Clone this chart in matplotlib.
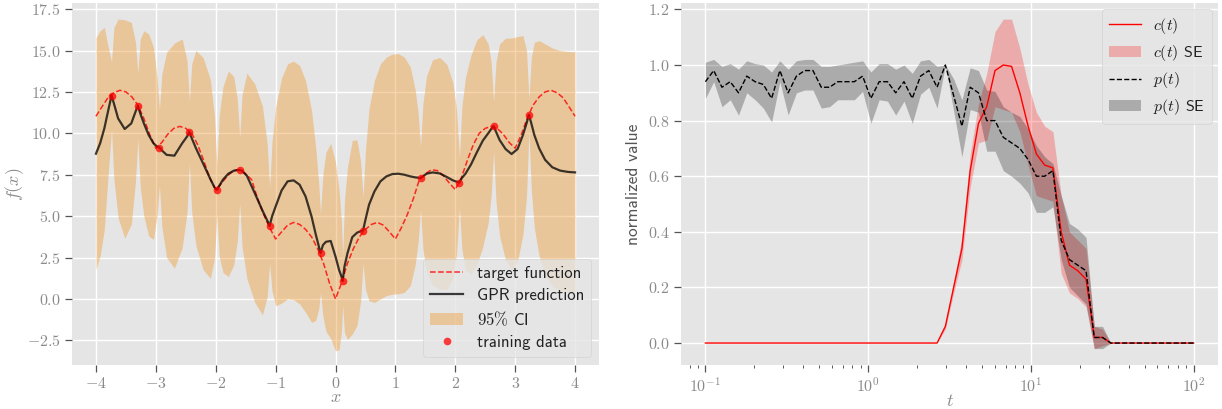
import numpy as np
import matplotlib
matplotlib.use("Agg")
import matplotlib.pyplot as plt
from matplotlib.ticker import FuncFormatter, LogLocator, NullFormatter, MultipleLocator

plt.style.use("ggplot")
plt.rcParams["mathtext.fontset"] = "cm"
plt.rcParams["font.family"] = ["cmss10", "DejaVu Sans"]
plt.rcParams["axes.unicode_minus"] = False

# ---- left panel: GPR fit -------------------------------------------------
train_x = [-3.74, -3.30, -2.94, -2.44, -1.98, -1.60, -1.10, -0.25, 0.12, 0.46,
           1.42, 2.07, 2.64, 3.23]
train_y = [12.28, 11.66, 9.14, 10.07, 6.59, 7.78, 4.41, 2.76, 1.09, 4.13,
           7.29, 7.03, 10.43, 11.12]

target_x = np.round(np.arange(-40, 41) * 0.1, 1)
target_y = [11.03, 11.60, 12.15, 12.45, 12.60, 12.50, 12.20, 11.70, 10.90, 9.90,
            9.10, 9.45, 9.95, 10.30, 10.42, 10.30, 10.00, 9.30, 8.35, 7.30,
            6.60, 7.00, 7.45, 7.75, 7.80, 7.55, 7.20, 6.05, 5.10, 4.30,
            3.62, 4.05, 4.45, 4.62, 4.50, 4.20, 3.75, 3.05, 2.15, 0.95,
            0.00,
            0.95, 2.15, 3.05, 3.75, 4.20, 4.50, 4.62, 4.45, 4.05, 3.62,
            4.30, 5.10, 6.05, 7.20, 7.55, 7.80, 7.75, 7.45, 7.00, 6.60,
            7.30, 8.35, 9.30, 10.00, 10.30, 10.42, 10.30, 9.95, 9.45, 9.10,
            9.90, 10.90, 11.70, 12.20, 12.50, 12.60, 12.45, 12.15, 11.60, 11.03]

pred_x = [-4.00, -3.93, -3.86, -3.80, -3.74,
          -3.70, -3.63, -3.52, -3.41, -3.34, -3.30,
          -3.26, -3.20, -3.12, -3.04, -2.98, -2.94,
          -2.90, -2.82, -2.69, -2.56, -2.48, -2.44,
          -2.40, -2.33, -2.21, -2.09, -2.02, -1.98,
          -1.94, -1.88, -1.79, -1.70, -1.64, -1.60,
          -1.56, -1.48, -1.35, -1.22, -1.14, -1.10,
          -1.06, -1.00, -0.90, -0.80, -0.70, -0.60, -0.50, -0.40, -0.33, -0.28, -0.25,
          -0.21, -0.16, -0.08, 0.00, 0.06, 0.10, 0.12,
          0.15, 0.20, 0.28, 0.36, 0.42, 0.46,
          0.50, 0.56, 0.65, 0.75, 0.85, 0.95, 1.05, 1.15, 1.25, 1.33, 1.38, 1.42,
          1.46, 1.52, 1.62, 1.74, 1.86, 1.96, 2.02, 2.07,
          2.11, 2.17, 2.26, 2.36, 2.46, 2.55, 2.60, 2.64,
          2.68, 2.74, 2.84, 2.94, 3.04, 3.13, 3.19, 3.23,
          3.27, 3.32, 3.40, 3.50, 3.62, 3.75, 3.88, 4.00]
pred_mean = [8.77, 9.40, 10.30, 11.30, 12.28,
             11.80, 10.90, 10.26, 10.60, 11.30, 11.66,
             11.20, 10.60, 9.90, 9.40, 9.20, 9.14,
             8.97, 8.70, 8.65, 9.40, 9.80, 10.08,
             9.70, 9.10, 8.17, 7.24, 6.73, 6.59,
             6.83, 7.20, 7.56, 7.74, 7.78, 7.78,
             7.74, 7.44, 6.40, 5.34, 4.74, 4.41,
             4.98, 5.58, 6.55, 7.10, 7.16, 6.90, 6.19, 4.98, 3.90, 3.20, 2.76,
             3.25, 3.45, 3.50, 2.56, 1.75, 1.35, 1.09,
             1.96, 2.76, 3.73, 4.00, 4.09, 4.13,
             4.78, 5.69, 6.49, 7.10, 7.40, 7.54, 7.56, 7.50, 7.40, 7.34, 7.32, 7.29,
             7.40, 7.56, 7.64, 7.58, 7.36, 7.16, 7.08, 7.03,
             7.30, 7.56, 8.10, 8.85, 9.56, 10.00, 10.26, 10.43,
             10.10, 9.60, 9.05, 8.75, 9.05, 9.90, 10.60, 11.12,
             10.60, 9.90, 9.10, 8.40, 7.95, 7.75, 7.67, 7.64]
ci_half = [7.00, 6.80, 6.10, 4.00, 2.05,
           4.60, 6.00, 6.60, 6.10, 4.20, 2.00,
           4.50, 5.60, 6.10, 5.80, 4.20, 2.30,
           4.60, 6.20, 6.80, 6.30, 4.60, 1.90,
           4.50, 5.90, 6.40, 6.00, 4.30, 1.50,
           4.30, 5.60, 6.20, 5.70, 4.30, 2.00,
           4.60, 6.20, 6.60, 6.30, 4.60, 2.30,
           4.50, 6.00, 6.80, 7.10, 7.20, 7.20, 7.00, 6.40, 5.20, 3.80, 2.40,
           4.30, 5.40, 5.90, 5.70, 4.80, 3.30, 1.50,
           4.00, 5.20, 5.85, 5.60, 4.20, 2.00,
           4.20, 5.80, 6.70, 7.10, 7.20, 7.25, 7.25, 7.10, 6.60, 5.30, 3.90, 1.90,
           4.40, 5.90, 6.80, 7.00, 6.80, 5.90, 4.40, 1.50,
           4.30, 5.80, 6.60, 6.80, 6.40, 5.40, 4.00, 1.50,
           4.20, 5.80, 6.70, 7.00, 6.80, 6.00, 4.40, 1.00,
           4.00, 5.60, 6.50, 7.00, 7.20, 7.25, 7.28, 7.28]

# ---- right panel: c(t), p(t) ---------------------------------------------
t = np.logspace(-1, 2, 60)
p_mean = [0.94, 0.98, 0.92, 0.94, 0.90, 0.96, 0.94, 0.93, 0.88, 0.98,
          0.90, 0.96, 0.98, 0.98, 0.92, 0.92, 0.94, 0.94, 0.94, 0.96,
          0.88, 0.94, 0.94, 0.90, 0.94, 0.88, 0.96, 0.98, 0.92, 1.00,
          0.89, 0.78, 0.92, 0.90, 0.80, 0.80, 0.74, 0.72, 0.70, 0.66,
          0.60, 0.60, 0.62, 0.37, 0.30, 0.28, 0.26, 0.02, 0.02, 0.00,
          0.00, 0.00, 0.00, 0.00, 0.00, 0.00, 0.00, 0.00, 0.00, 0.00]
p_hi = [1.010, 1.020, 0.995, 1.005, 0.985, 1.015, 1.005, 1.000, 0.975, 1.015,
        0.985, 1.015, 1.020, 1.020, 0.995, 0.995, 1.000, 1.005, 1.010, 1.015,
        0.975, 1.005, 1.005, 0.985, 1.000, 0.970, 1.015, 1.020, 0.995, 1.000,
        0.950, 0.875, 0.990, 0.980, 0.910, 0.905, 0.850, 0.830, 0.815, 0.770,
        0.710, 0.670, 0.645, 0.530, 0.430, 0.410, 0.380, 0.060, 0.060, 0.000,
        0.00, 0.00, 0.00, 0.00, 0.00, 0.00, 0.00, 0.00, 0.00, 0.00]
p_lo = [0.880, 0.940, 0.850, 0.875, 0.820, 0.900, 0.875, 0.845, 0.795, 0.940,
        0.820, 0.900, 0.910, 0.910, 0.845, 0.850, 0.875, 0.875, 0.875, 0.905,
        0.790, 0.875, 0.870, 0.820, 0.870, 0.790, 0.895, 0.920, 0.845, 1.000,
        0.835, 0.670, 0.840, 0.830, 0.690, 0.690, 0.620, 0.600, 0.575, 0.540,
        0.470, 0.470, 0.490, 0.300, 0.200, 0.170, 0.140, -0.020, -0.020, 0.000,
        0.00, 0.00, 0.00, 0.00, 0.00, 0.00, 0.00, 0.00, 0.00, 0.00]
c_mean = [0.0] * 29 + [0.06, 0.20, 0.34, 0.62, 0.79, 0.85, 0.98, 1.00, 0.995, 0.90,
                       0.78, 0.68, 0.64, 0.63, 0.40, 0.28, 0.26, 0.23, 0.02, 0.02] + [0.0] * 11
c_lo = [0.0] * 29 + [0.05, 0.18, 0.30, 0.56, 0.72, 0.73, 0.85, 0.84, 0.83, 0.76,
                     0.64, 0.53, 0.52, 0.51, 0.25, 0.18, 0.16, 0.13, -0.02, -0.01] + [0.0] * 11
c_hi = [0.0] * 29 + [0.07, 0.22, 0.38, 0.68, 0.86, 0.97, 1.12, 1.165, 1.165, 1.06,
                     0.93, 0.83, 0.78, 0.76, 0.53, 0.40, 0.37, 0.34, 0.06, 0.05] + [0.0] * 11

TICK_LABEL = "#8a8a8a"
TICK_MARK = "#555555"

fig = plt.figure(figsize=(12.22, 4.09), dpi=100)
ax1 = fig.add_axes([72 / 1222, 44 / 409, 527 / 1222, 362 / 409])
ax2 = fig.add_axes([681 / 1222, 44 / 409, 537 / 1222, 362 / 409])

for ax in (ax1, ax2):
    ax.set_facecolor("#e5e5e5")
    ax.grid(True, which="major", color="white", lw=1.0)
    ax.set_axisbelow(True)
    for s in ax.spines.values():
        s.set_visible(False)
    ax.tick_params(which="both", direction="out", color=TICK_MARK,
                   labelcolor=TICK_LABEL, labelsize=11.5)
    ax.tick_params(which="major", length=5, width=0.9, pad=3)
    ax.tick_params(which="minor", length=2.5, width=0.7)

# left
pm = np.array(pred_mean)
hw = np.array(ci_half)
ci = ax1.fill_between(pred_x, pm - hw, pm + hw, color="#eea040", alpha=0.45,
                      lw=0, zorder=1)
l_target, = ax1.plot(target_x, target_y, "--", color="red", alpha=0.8, lw=1.1,
                     zorder=2)
l_gpr, = ax1.plot(pred_x, pred_mean, "-", color="black", alpha=0.75, lw=1.6,
                  zorder=3)
l_train, = ax1.plot(train_x, train_y, "o", color="red", alpha=0.75, ms=5.5,
                    mec="none", zorder=4)
ax1.set_xlim(-4.4, 4.4)
ax1.set_ylim(-3.99, 17.87)
ax1.xaxis.set_major_locator(MultipleLocator(1))
ax1.yaxis.set_major_locator(MultipleLocator(2.5))
ax1.xaxis.set_major_formatter(FuncFormatter(lambda v, _: f"${v:.0f}$"))
ax1.yaxis.set_major_formatter(FuncFormatter(lambda v, _: f"${v:.1f}$"))
ax1.set_xlabel("$x$", fontsize=13, color=TICK_LABEL, labelpad=-1)
ax1.set_ylabel("$f(x)$", fontsize=13, color=TICK_LABEL, labelpad=1)
ax1.legend([l_target, l_gpr, ci, l_train],
           ["target function", "GPR prediction", r"$95\%$ CI", "training data"],
           loc="lower right", fontsize=12, framealpha=0.8,
           facecolor="#e5e5e5", edgecolor="#cfcfcf", labelcolor="#222222",
           borderaxespad=0.5, labelspacing=0.42)

# right
ax2.plot(t, c_mean, "-", color="red", lw=1.0, label="$c(t)$", zorder=3)
ax2.fill_between(t, c_lo, c_hi, color="red", alpha=0.25, lw=0,
                 label="$c(t)$ SE", zorder=1)
ax2.plot(t, p_mean, "--", color="black", lw=1.0, label="$p(t)$", zorder=4)
ax2.fill_between(t, p_lo, p_hi, color="black", alpha=0.25, lw=0,
                 label="$p(t)$ SE", zorder=2)
ax2.set_xscale("log")
ax2.set_xlim(10 ** -1.15, 10 ** 2.15)
ax2.set_ylim(-0.079, 1.223)
ax2.xaxis.set_major_locator(LogLocator(base=10, numticks=10))
ax2.xaxis.set_minor_locator(LogLocator(base=10, subs=np.arange(2, 10), numticks=20))
ax2.xaxis.set_major_formatter(
    FuncFormatter(lambda v, _: "$10^{%d}$" % int(round(np.log10(v)))))
ax2.xaxis.set_minor_formatter(NullFormatter())
ax2.yaxis.set_major_locator(MultipleLocator(0.2))
ax2.yaxis.set_major_formatter(FuncFormatter(lambda v, _: f"${v:.1f}$"))
ax2.set_xlabel("$t$", fontsize=13, color=TICK_LABEL, labelpad=-1)
ax2.set_ylabel("normalized value", fontsize=12.5, color="#555555", labelpad=5)
ax2.legend(loc="upper right", fontsize=11.5, framealpha=0.8,
           facecolor="#e5e5e5", edgecolor="#cfcfcf", labelcolor="#222222",
           borderaxespad=0.4, labelspacing=0.45)

fig.savefig("out.png", dpi=100)
